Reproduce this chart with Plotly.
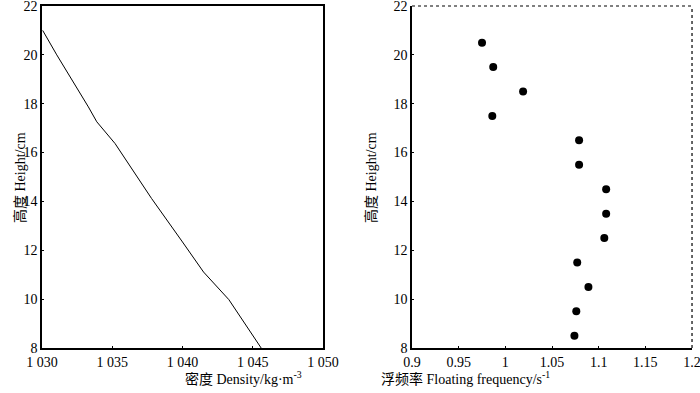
import plotly.graph_objects as go

# Left panel: density profile
density = [1030.05, 1031.05, 1033.3, 1033.9, 1035.2, 1037.8, 1040.0, 1041.5, 1043.3, 1045.0, 1045.6]
density_height = [21.0, 20.0, 17.87, 17.26, 16.37, 14.12, 12.34, 11.11, 9.98, 8.52, 8.0]

# Right panel: floating frequency
freq = [0.975, 0.987, 1.019, 0.986, 1.079, 1.079, 1.108, 1.108, 1.106, 1.077, 1.089, 1.076, 1.074]
freq_height = [20.5, 19.5, 18.5, 17.5, 16.5, 15.5, 14.5, 13.5, 12.5, 11.5, 10.5, 9.5, 8.5]

y_ticks = [8, 10, 12, 14, 16, 18, 20, 22]
x1_ticks = [1030, 1035, 1040, 1045, 1050]
x1_labels = ["1 030", "1 035", "1 040", "1 045", "1 050"]
x2_ticks = [0.9, 0.95, 1.0, 1.05, 1.1, 1.15, 1.2]
x2_labels = ["0.9", "0.95", "1", "1.05", "1.1", "1.15", "1.2"]

FONT = "Liberation Serif"
TITLE_FONT = "Liberation Serif, Noto Sans CJK SC"

fig = go.Figure()
fig.add_trace(go.Scatter(x=density, y=density_height, mode="lines",
                         line=dict(color="black", width=1), xaxis="x", yaxis="y",
                         showlegend=False))
fig.add_trace(go.Scatter(x=freq, y=freq_height, mode="markers",
                         marker=dict(color="black", size=8), xaxis="x2", yaxis="y2",
                         showlegend=False))

ydom = [0.1145, 0.9847]
axis_common = dict(showgrid=False, zeroline=False, showline=True, linecolor="black",
                   linewidth=1.5, ticks="inside", ticklen=2, tickcolor="black",
                   ticklabeloverflow="allow", automargin=False,
                   tickfont=dict(family=FONT, size=14, color="black"))

fig.update_layout(
    width=700, height=393,
    margin=dict(l=0, r=0, t=0, b=0),
    paper_bgcolor="white", plot_bgcolor="white",
    font=dict(family=TITLE_FONT, color="black"),
    xaxis=dict(domain=[0.06, 0.4614], range=[1030, 1050], tickvals=x1_ticks,
               ticktext=x1_labels, mirror=True, anchor="y", **axis_common),
    yaxis=dict(domain=ydom, range=[8, 22], tickvals=y_ticks, mirror=True,
               anchor="x", **axis_common),
    xaxis2=dict(domain=[0.5886, 0.9886], range=[0.9, 1.2], tickvals=x2_ticks,
                ticktext=x2_labels, anchor="y2", **axis_common),
    yaxis2=dict(domain=ydom, range=[8, 22], tickvals=y_ticks, anchor="x2",
                **axis_common),
)

# dotted top/right frame on right panel
fig.add_shape(type="line", xref="x2 domain", yref="y2 domain", x0=0, x1=1, y0=1, y1=1,
              line=dict(color="black", width=1.2, dash="dot"))
fig.add_shape(type="line", xref="x2 domain", yref="y2 domain", x0=1, x1=1, y0=0, y1=1,
              line=dict(color="black", width=1.2, dash="dot"))

title_font = dict(family=TITLE_FONT, size=14, color="black")
fig.add_annotation(text="密度 Density/kg·m<sup>-3</sup>", x=0.2614, y=1 - 378/393, xref="paper",
                   yref="paper", showarrow=False, font=title_font, yanchor="middle")
fig.add_annotation(text="浮频率 Floating frequency/s<sup>-1</sup>", x=0.7886, y=1 - 378/393,
                   xref="paper", yref="paper", showarrow=False, font=title_font, yanchor="middle")
ytitle_font = dict(family=TITLE_FONT, size=14, color="black")
fig.add_annotation(text="高度 Height/cm", x=10/700, y=0.547, xref="paper", yref="paper",
                   showarrow=False, font=ytitle_font, textangle=-90)
fig.add_annotation(text="高度 Height/cm", x=371/700, y=0.547, xref="paper", yref="paper",
                   showarrow=False, font=ytitle_font, textangle=-90)

fig.write_html("out.html", config={"displayModeBar": False},
               post_script="document.body.style.margin='0';document.body.style.overflow='hidden';")
